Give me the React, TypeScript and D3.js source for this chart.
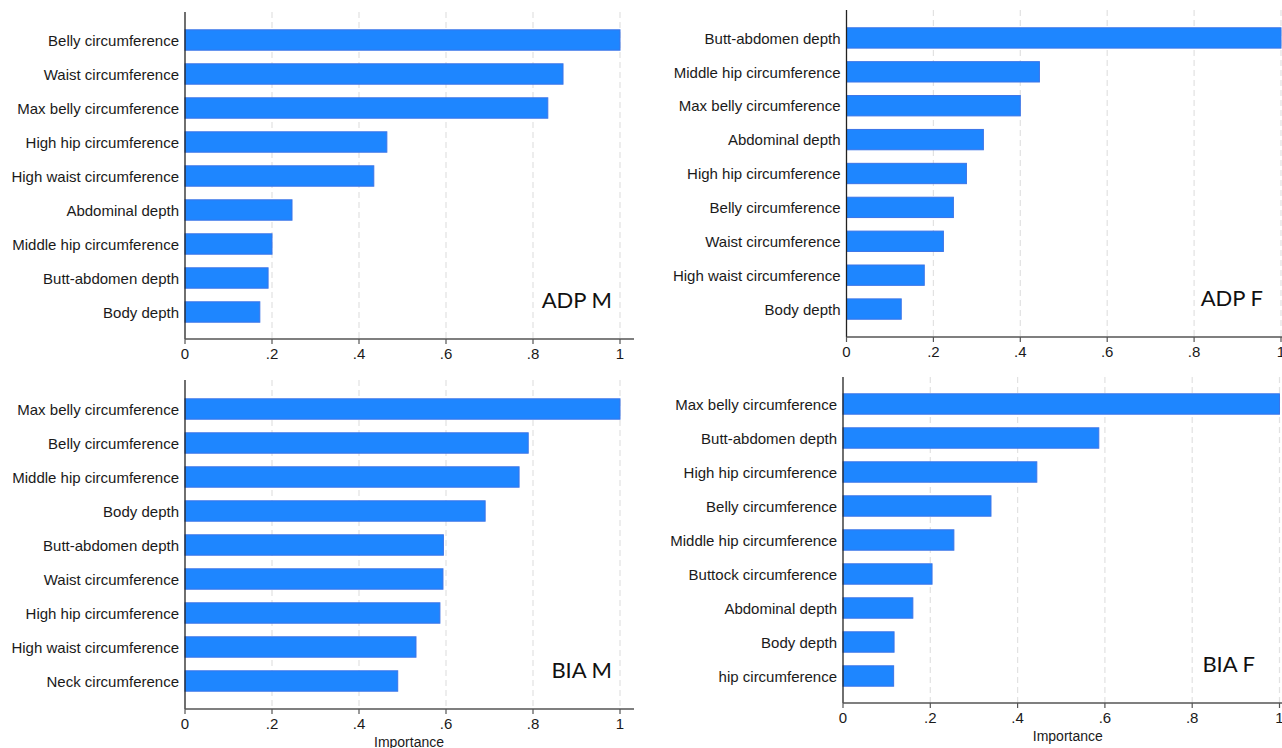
import React from "react";
import * as d3 from "d3";

const adpMCats = ["Belly circumference", "Waist circumference", "Max belly circumference", "High hip circumference", "High waist circumference", "Abdominal depth", "Middle hip circumference", "Butt-abdomen depth", "Body depth"];
const adpMVals = [1.0, 0.869, 0.834, 0.464, 0.434, 0.246, 0.2, 0.191, 0.172];

const adpFCats = ["Butt-abdomen depth", "Middle hip circumference", "Max belly circumference", "Abdominal depth", "High hip circumference", "Belly circumference", "Waist circumference", "High waist circumference", "Body depth"];
const adpFVals = [1.0, 0.444, 0.4, 0.315, 0.276, 0.246, 0.223, 0.179, 0.126];

const biaMCats = ["Max belly circumference", "Belly circumference", "Middle hip circumference", "Body depth", "Butt-abdomen depth", "Waist circumference", "High hip circumference", "High waist circumference", "Neck circumference"];
const biaMVals = [1.0, 0.789, 0.768, 0.69, 0.594, 0.593, 0.586, 0.531, 0.489];

const biaFCats = ["Max belly circumference", "Butt-abdomen depth", "High hip circumference", "Belly circumference", "Middle hip circumference", "Buttock circumference", "Abdominal depth", "Body depth", "hip circumference"];
const biaFVals = [1.0, 0.586, 0.444, 0.339, 0.254, 0.204, 0.16, 0.117, 0.116];

const xTicks = [0, 0.2, 0.4, 0.6, 0.8, 1];
const tickFmt = (v: number) => (v === 0 ? "0" : v === 1 ? "1" : String(v).replace(/^0/, ""));

type PanelProps = {
  cats: string[];
  vals: number[];
  title: string;
  x0: number; x1: number; xEnd: number;
  yTop: number; yAxis: number; bandTop: number; bandBottom: number;
  titleRight: number;
  showXLabel: boolean;
};

const FONT = "'Liberation Sans', Arial, sans-serif";

function Panel(p: PanelProps) {
  const x = d3.scaleLinear().domain([0, 1]).range([p.x0, p.x1]);
  const y = d3.scaleBand<string>().domain(p.cats).range([p.bandTop, p.bandBottom]).paddingInner(0.4).paddingOuter(0.2);
  const bw = y.bandwidth();
  return (
    <g>
      {xTicks.filter((t) => t > 0).map((t) => (
        <line key={"g" + t} x1={x(t)} x2={x(t)} y1={p.yTop} y2={p.yAxis} stroke="#e2e2e2" strokeWidth={1.2} strokeDasharray="6,4" />
      ))}
      {p.cats.map((c, i) => (
        <g key={c}>
          <rect x={x(0)} y={y(c)!} width={x(p.vals[i]) - x(0)} height={bw} fill="#1e86ff" stroke="#3a74e8" strokeWidth={1} />
          <text x={x(0) - 6} y={y(c)! + bw / 2 + 0.5} dy="0.35em" textAnchor="end" fontFamily={FONT} fontSize={15} fill="#1a1a1a">{c}</text>
        </g>
      ))}
      <line x1={p.x0} x2={p.x0} y1={p.yTop} y2={p.yAxis} stroke="#222" strokeWidth={1.3} />
      <line x1={p.x0} x2={p.xEnd} y1={p.yAxis} y2={p.yAxis} stroke="#555" strokeWidth={1.3} />
      {xTicks.map((t) => (
        <g key={"t" + t}>
          <line x1={x(t)} x2={x(t)} y1={p.yAxis} y2={p.yAxis + 5} stroke="#555" strokeWidth={1.2} />
          <text x={x(t)} y={p.yAxis + 20} textAnchor="middle" fontFamily={FONT} fontSize={15} fill="#1a1a1a">{tickFmt(t)}</text>
        </g>
      ))}
      {p.showXLabel && (
        <text x={x(0.515)} y={p.yAxis + 38} textAnchor="middle" fontFamily={FONT} fontSize={14} fill="#1a1a1a">Importance</text>
      )}
      <text x={p.titleRight} y={p.yAxis - 31} textAnchor="end" fontFamily="Lato, 'Open Sans', sans-serif" fontSize={22} fill="#111">{p.title}</text>
    </g>
  );
}

export default function App() {
  return (
    <svg width={1282} height={748} style={{ position: "absolute", left: 0, top: 0, background: "#fff" }}>
      <rect width={1282} height={748} fill="#fff" />
      <Panel cats={adpMCats} vals={adpMVals} title="ADP M" x0={185} x1={620} xEnd={634} yTop={12} yAxis={339} bandTop={23} bandBottom={329} titleRight={612} showXLabel={false} />
      <Panel cats={adpFCats} vals={adpFVals} title="ADP F" x0={846.5} x1={1281} xEnd={1282} yTop={10} yAxis={337} bandTop={21} bandBottom={326} titleRight={1263} showXLabel={false} />
      <Panel cats={biaMCats} vals={biaMVals} title="BIA M" x0={185} x1={620} xEnd={634} yTop={380} yAxis={709} bandTop={392} bandBottom={698} titleRight={612} showXLabel={true} />
      <Panel cats={biaFCats} vals={biaFVals} title="BIA F" x0={843} x1={1279.5} xEnd={1282} yTop={377} yAxis={703} bandTop={387} bandBottom={693} titleRight={1255} showXLabel={true} />
    </svg>
  );
}
